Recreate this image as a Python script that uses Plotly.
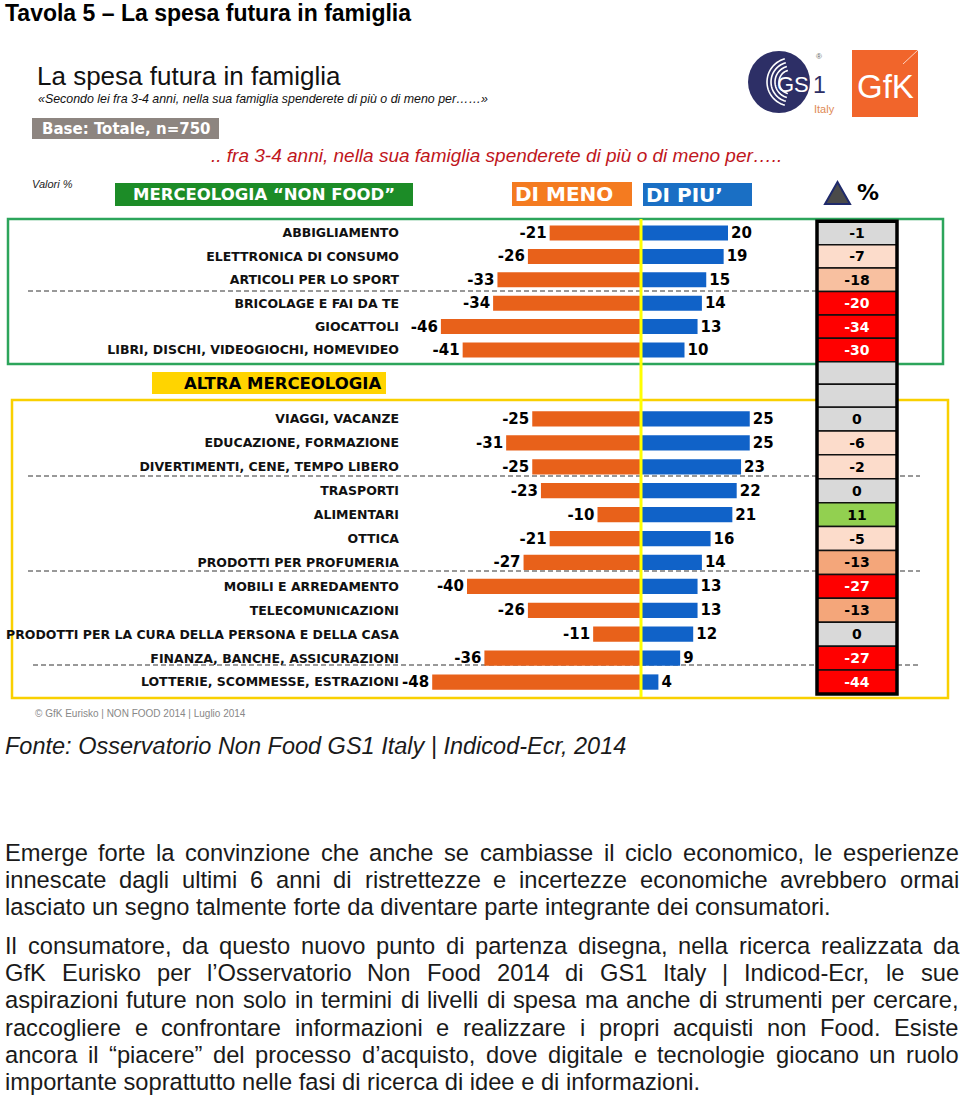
import plotly.graph_objects as go
import numpy as np

W, H = 960, 1097

# ---------------- DATA ----------------
cats_nonfood = ["ABBIGLIAMENTO", "ELETTRONICA DI CONSUMO", "ARTICOLI PER LO SPORT",
                "BRICOLAGE E FAI DA TE", "GIOCATTOLI", "LIBRI, DISCHI, VIDEOGIOCHI, HOMEVIDEO"]
meno_nonfood = [-21, -26, -33, -34, -46, -41]
piu_nonfood = [20, 19, 15, 14, 13, 10]
delta_nonfood = [-1, -7, -18, -20, -34, -30]

cats_altra = ["VIAGGI, VACANZE", "EDUCAZIONE, FORMAZIONE", "DIVERTIMENTI, CENE, TEMPO LIBERO",
              "TRASPORTI", "ALIMENTARI", "OTTICA", "PRODOTTI PER PROFUMERIA",
              "MOBILI E ARREDAMENTO", "TELECOMUNICAZIONI",
              "PRODOTTI PER LA CURA DELLA PERSONA E DELLA CASA",
              "FINANZA, BANCHE, ASSICURAZIONI", "LOTTERIE, SCOMMESSE, ESTRAZIONI"]
meno_altra = [-25, -31, -25, -23, -10, -21, -27, -40, -26, -11, -36, -48]
piu_altra = [25, 25, 23, 22, 21, 16, 14, 13, 13, 12, 9, 4]
delta_altra = [0, -6, -2, 0, 11, -5, -13, -27, -13, 0, -27, -44]

paragraph1 = [
    "Emerge forte la convinzione che anche se cambiasse il ciclo economico, le esperienze",
    "innescate dagli ultimi 6 anni di ristrettezze e incertezze economiche avrebbero ormai",
    "lasciato un segno talmente forte da diventare parte integrante dei consumatori.",
]
paragraph2 = [
    "Il consumatore, da questo nuovo punto di partenza disegna, nella ricerca realizzata da",
    "GfK Eurisko per l’Osservatorio Non Food 2014 di GS1 Italy | Indicod-Ecr, le sue",
    "aspirazioni future non solo in termini di livelli di spesa ma anche di strumenti per cercare,",
    "raccogliere e confrontare informazioni e realizzare i propri acquisti non Food. Esiste",
    "ancora il “piacere” del processo d’acquisto, dove digitale e tecnologie giocano un ruolo",
    "importante soprattutto nelle fasi di ricerca di idee e di informazioni.",
]

# ---------------- STYLE ----------------
ORANGE = "#e8611a"
BLUE = "#1062c8"
GREEN_BOX = "#2ca55b"
YELLOW_BOX = "#f9d000"
LABEL_FONT = "DejaVu Sans"
TEXT_FONT = "Liberation Sans"


def fx(x):
    return x / W


def fy(y):
    return 1 - y / H


ZERO, PPU = 641, 4.35
XL, XR = 400, 860
xrange_ = [-(ZERO - XL) / PPU, (XR - ZERO) / PPU]

G1_TOP, G1_BOT = 221.3, 361.7
G2_TOP, G2_BOT = 407.0, 694.0
T_L, T_R = 817, 897


def cell_color(v):
    if v > 0:
        return "#92d050"
    if v >= -1:
        return "#d9d9d9"
    if v >= -7:
        return "#fcdccb"
    if v >= -15:
        return "#f4a67a"
    if v >= -19:
        return "#f8c0a0"
    return "#ff0000"


def cell_text_color(v):
    return "#ffffff" if v <= -20 else "#000000"


fig = go.Figure()

groups = [
    (cats_nonfood, meno_nonfood, piu_nonfood, delta_nonfood, "x", "y", "x3"),
    (cats_altra, meno_altra, piu_altra, delta_altra, "x2", "y2", "x4"),
]
for cats, meno, piu, delta, xa, ya, xt in groups:
    fig.add_trace(go.Bar(
        y=cats, x=meno, orientation="h", marker=dict(color=ORANGE, line=dict(width=0)),
        width=0.64, text=[str(v) for v in meno], textposition="outside",
        textfont=dict(family=LABEL_FONT, size=15, color="#000", weight="bold"),
        constraintext="none", cliponaxis=False, xaxis=xa, yaxis=ya, hoverinfo="skip"))
    fig.add_trace(go.Bar(
        y=cats, x=piu, orientation="h", marker=dict(color=BLUE, line=dict(width=0)),
        width=0.64, text=[str(v) for v in piu], textposition="outside",
        textfont=dict(family=LABEL_FONT, size=15, color="#000", weight="bold"),
        constraintext="none", cliponaxis=False, xaxis=xa, yaxis=ya, hoverinfo="skip"))
    fig.add_trace(go.Bar(
        y=cats, x=[1] * len(cats), orientation="h", width=1.0,
        marker=dict(color=[cell_color(v) for v in delta], line=dict(color="#111", width=1.5)),
        text=[str(v) for v in delta], textposition="inside", insidetextanchor="middle",
        textangle=0,
        textfont=dict(family=LABEL_FONT, size=14, color=[cell_text_color(v) for v in delta],
                      weight="bold"),
        constraintext="none", xaxis=xt, yaxis=ya, hoverinfo="skip"))

hidden_x = dict(showgrid=False, zeroline=False, showticklabels=False, showline=False,
                ticks="", automargin=False, fixedrange=True)
cat_y = dict(showgrid=False, zeroline=False, showline=False, ticks="", automargin=False,
             autorange="reversed", type="category",
             tickfont=dict(family=LABEL_FONT, size=12.5, color="#111", weight="bold"))

fig.update_layout(
    template="none",
    width=W, height=H, margin=dict(l=0, r=0, t=0, b=0),
    paper_bgcolor="white", plot_bgcolor="rgba(0,0,0,0)",
    showlegend=False, barmode="overlay",
    xaxis=dict(domain=[fx(XL), fx(XR)], range=xrange_, anchor="y", **hidden_x),
    xaxis2=dict(domain=[fx(XL), fx(XR)], range=xrange_, anchor="y2", **hidden_x),
    xaxis3=dict(domain=[fx(T_L), fx(T_R)], range=[0, 1], anchor="y", **hidden_x),
    xaxis4=dict(domain=[fx(T_L), fx(T_R)], range=[0, 1], anchor="y2", **hidden_x),
    yaxis=dict(domain=[fy(G1_BOT), fy(G1_TOP)], anchor="x", tickvals=cats_nonfood,
               ticktext=cats_nonfood, **cat_y),
    yaxis2=dict(domain=[fy(G2_BOT), fy(G2_TOP)], anchor="x2", tickvals=cats_altra,
                ticktext=cats_altra, **cat_y),
)

shapes = []
annotations = []


def rect(x0, y0, x1, y1, fill=None, line=None, lw=0, layer="above"):
    shapes.append(dict(type="rect", xref="paper", yref="paper", x0=fx(x0), x1=fx(x1),
                       y0=fy(y1), y1=fy(y0), fillcolor=fill or "rgba(0,0,0,0)",
                       line=dict(color=line or "rgba(0,0,0,0)", width=lw), layer=layer))


def hline(x0, x1, y, color, width, dash="solid", layer="above"):
    shapes.append(dict(type="line", xref="paper", yref="paper", x0=fx(x0), x1=fx(x1),
                       y0=fy(y), y1=fy(y), line=dict(color=color, width=width, dash=dash),
                       layer=layer))


def text(x, y, s, size, color="#000", family=TEXT_FONT, xanchor="left", bold=False,
         italic=False):
    annotations.append(dict(xref="paper", yref="paper", x=fx(x), y=fy(y), text=s,
                            showarrow=False, xanchor=xanchor, yanchor="middle",
                            font=dict(family=family, size=size, color=color,
                                      weight="bold" if bold else "normal",
                                      style="italic" if italic else "normal")))


# boxes
rect(8, 219, 943, 364, line=GREEN_BOX, lw=2.5, layer="below")
rect(12, 400, 948, 698, line=YELLOW_BOX, lw=2.5, layer="below")

# dashed separators
hline(28, 818, 291, "#333", 1, "5px,3px", layer="below")
hline(28, 920, 476, "#333", 1, "5px,3px", layer="below")
hline(28, 920, 571, "#333", 1, "5px,3px", layer="below")
hline(33, 920, 665, "#333", 1, "5px,3px", layer="below")

# empty table cells + thick border
rect(T_L, G1_BOT, T_R, (G1_BOT + G2_TOP) / 2, fill="#d9d9d9", line="#111", lw=1.5)
rect(T_L, (G1_BOT + G2_TOP) / 2, T_R, G2_TOP, fill="#d9d9d9", line="#111", lw=1.5)
rect(T_L, G1_TOP, T_R, G2_BOT, line="#000", lw=3.5)

# yellow centre line
shapes.append(dict(type="line", xref="paper", yref="paper", x0=fx(ZERO), x1=fx(ZERO),
                   y0=fy(219), y1=fy(697), line=dict(color="#ffff00", width=3)))

# headers
rect(115, 183, 413, 206, fill="#1c8c27")
text(264, 195, "MERCEOLOGIA “NON FOOD”", 16.5, "#fff", LABEL_FONT, "center", bold=True)
rect(512, 182, 632, 206, fill="#f47b20")
text(513, 194, "DI MENO", 20, "#fff", LABEL_FONT, bold=True)
rect(643, 183, 752, 206, fill="#1a6fc4")
text(644, 195, "DI PIU’", 20, "#fff", LABEL_FONT, bold=True)
shapes.append(dict(type="path", xref="paper", yref="paper",
                   path=f"M {fx(837.5)} {fy(182)} L {fx(850)} {fy(204)} L {fx(825)} {fy(204)} Z",
                   fillcolor="#4a4a4a", line=dict(color="#1f2a6b", width=2)))
text(855, 192, "%", 22, "#000", LABEL_FONT, bold=True)
text(30, 184, "Valori %", 11, "#222", italic=True)

rect(152, 372, 386, 394, fill="#ffd400")
text(383, 383, "ALTRA MERCEOLOGIA", 16.5, "#000", LABEL_FONT, "right", bold=True)

# titles
text(3, 13, "Tavola 5 – La spesa futura in famiglia", 23, "#000", bold=True)
text(35, 76, "La spesa futura in famiglia", 26, "#111")
text(36, 99, "«Secondo lei fra 3-4 anni, nella sua famiglia spenderete di più o di meno per……»",
     12.4, "#111", italic=True)
rect(32, 118, 219, 139, fill="#8d8580")
text(40, 128.5, "Base: Totale, n=750", 15, "#fff", LABEL_FONT, bold=True)
text(209, 155, ".. fra 3-4 anni, nella sua famiglia spenderete di più o di meno per…..",
     19, "#c0161c", italic=True)

# GS1 logo
shapes.append(dict(type="circle", xref="paper", yref="paper", x0=fx(748), x1=fx(810),
                   y0=fy(113), y1=fy(51), fillcolor="#2d2f66", line=dict(width=0)))
cx, cy = 791, 82
for r in [12, 16, 20, 24]:
    ang = np.linspace(np.radians(105), np.radians(255), 30)
    pts = [(cx + r * np.cos(a), cy - r * np.sin(a)) for a in ang]
    pth = "M " + " L ".join(f"{fx(px)} {fy(py)}" for px, py in pts)
    shapes.append(dict(type="path", xref="paper", yref="paper", path=pth,
                       line=dict(color="white", width=1.6)))
text(793, 84, "GS", 22, "#fff", TEXT_FONT, "center")
text(811, 85, "1", 23, "#2d2f66", TEXT_FONT)
text(814, 57, "®", 8, "#666", TEXT_FONT)
text(812, 109, "Italy", 11, "#e08a55", TEXT_FONT)

# GfK logo
rect(852, 50, 918, 117, fill="#f1652b")
shapes.append(dict(type="line", xref="paper", yref="paper", x0=fx(903), x1=fx(918),
                   y0=fy(64), y1=fy(50), line=dict(color="rgba(255,255,255,0.7)", width=1)))
text(885, 86, "GfK", 33, "#fff", TEXT_FONT, "center")

# footer
text(33, 713, "© GfK Eurisko | NON FOOD 2014 | Luglio 2014", 10, "#888")
text(3, 746, "Fonte: Osservatorio Non Food GS1 Italy | Indicod-Ecr, 2014", 23.5, "#1a1a1a",
     italic=True)

# justified paragraphs (Arial / Liberation Sans metrics)
AW = {c: 556 for c in "abdeghnopqu0123456789ù"}
AW.update({"c": 500, "k": 500, "s": 500, "v": 500, "x": 500, "y": 500, "z": 500,
           "f": 278, "t": 278, "i": 222, "j": 222, "l": 222, "m": 833, "r": 333, "w": 722,
           " ": 278, ",": 278, ".": 278, ":": 278, "|": 260, "-": 333, "’": 222, "“": 333,
           "”": 333, "A": 667, "B": 667, "C": 722, "D": 722, "E": 667, "F": 611, "G": 778,
           "H": 722, "I": 278, "K": 667, "L": 556, "N": 722, "O": 778, "S": 667, "T": 611})


def tw(s, size):
    return sum(AW.get(c, 556) for c in s) * size / 1000


PSIZE = 23.7


def para(lines, y0, step):
    for i, line in enumerate(lines):
        y = y0 + i * step
        if i == len(lines) - 1:
            text(3, y, line, PSIZE, "#1a1a1a")
            continue
        words = line.split(" ")
        widths = [tw(w, PSIZE) for w in words]
        gap = (957 - 3 - sum(widths)) / (len(words) - 1)
        x = 3
        for wd, ww in zip(words, widths):
            text(x, y, wd, PSIZE, "#1a1a1a")
            x += ww + gap


para(paragraph1, 853, 27)
para(paragraph2, 946, 27.2)

fig.update_layout(shapes=shapes, annotations=annotations)
fig.write_html("out.html", config={"displayModeBar": False},
               post_script="document.body.style.margin='0px';")
